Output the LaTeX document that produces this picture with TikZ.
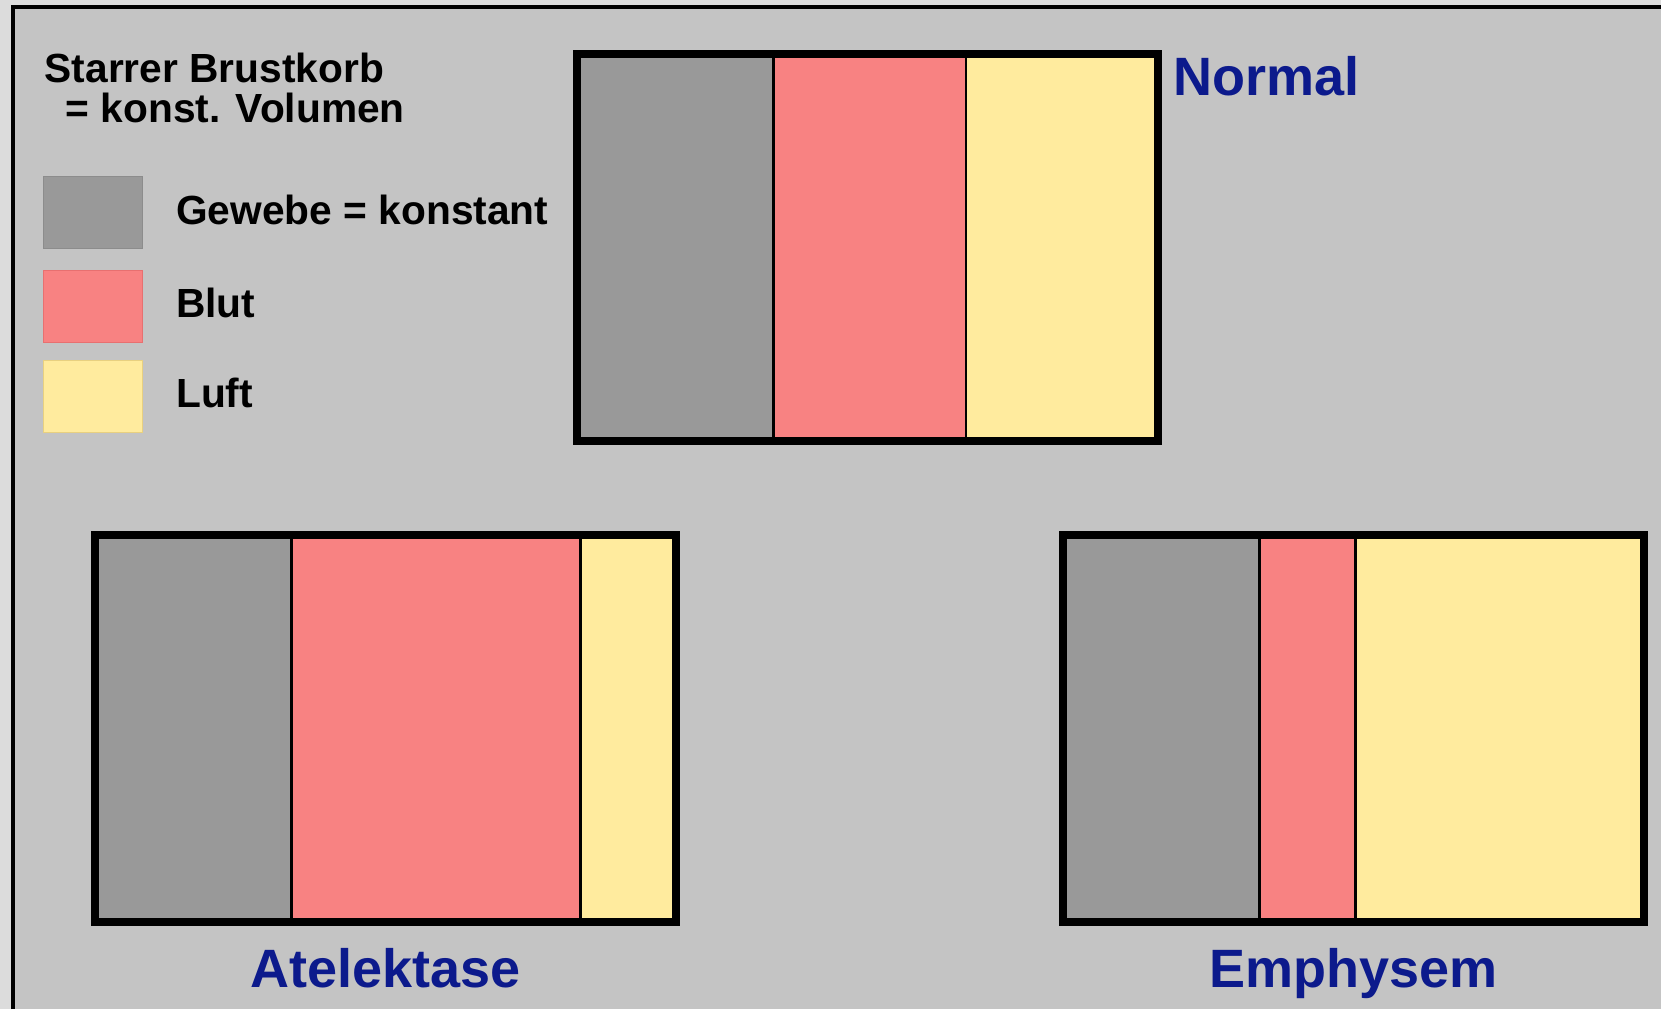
\documentclass[tikz,border=0pt]{standalone}
\usepackage{fontspec}
\setmainfont{Liberation Sans}
\definecolor{bg}{HTML}{C4C4C4}
\definecolor{outerbg}{HTML}{DCDCDC}
\definecolor{tissue}{HTML}{999999}
\definecolor{tissueedge}{HTML}{8C8C8C}
\definecolor{blood}{HTML}{F88282}
\definecolor{bloodedge}{HTML}{E87070}
\definecolor{air}{HTML}{FFEB9E}
\definecolor{airedge}{HTML}{E8D080}
\definecolor{navy}{HTML}{0C1A8C}
\tikzset{
  legtext/.style={inner sep=0pt, anchor=base west, font=\fontsize{40.7}{48}\selectfont\bfseries, text=black},
  title/.style={inner sep=0pt, anchor=base, font=\fontsize{54}{60}\selectfont\bfseries, text=navy},
  legsq/.style={draw=#1edge, fill=#1, line width=1pt, outer sep=0pt, minimum width=99pt, minimum height=72pt, inner sep=0pt, anchor=north west},
  seg/.style={fill=#1, draw=none, inner sep=0pt, outer sep=0pt, minimum height=387pt, anchor=north west},
  divider/.style={line width=2.5pt, black},
  boxframe/.style={draw=black, line width=8pt, fill=none, inner sep=0pt, outer sep=0pt, minimum width=581pt, minimum height=387pt, anchor=north west}
}
\begin{document}
\begin{tikzpicture}[x=1pt,y=-1pt]
\useasboundingbox (0,0) rectangle (1661,1009);
\fill[outerbg] (0,0) rectangle (1661,1009);
\fill[bg] (13,7) rectangle (1661,1009);
\draw[line width=4pt] (13,1009) -- (13,7) -- (1661,7);

% legend
\node[legtext] (t1) at (44.5,82.5) {Starrer Brustkorb};
\node[legtext] (t2) at (65.7,122) {= konst. Volumen};
\node[legsq=tissue] (lg) at (43,176) {};
\node[legsq=blood] (lb) at (43,270) {};
\node[legsq=air] (la) at (43,360) {};
\node[legtext] (tg) at (176,224) {Gewebe = konstant};
\node[legtext] (tb) at (176,317.5) {Blut};
\node[legtext] (ta) at (176,407.5) {Luft};

% Normal
\node[seg=tissue, minimum width=196.5pt] (ng) at (577,53.5) {};
\node[seg=blood, minimum width=192.3pt] (nb) at (773.5,53.5) {};
\node[seg=air, minimum width=192.2pt] (na) at (965.8,53.5) {};
\draw[divider] (ng.north east) -- (ng.south east);
\draw[divider] (nb.north east) -- (nb.south east);
\node[boxframe] (nbox) at (577,53.5) {};
\node[inner sep=0pt, anchor=base west, font=\fontsize{54}{60}\selectfont\bfseries, text=navy] (nt) at (1173.5,95) {Normal};

% Atelektase
\node[seg=tissue, minimum width=196.5pt] (ag) at (95,534.5) {};
\node[seg=blood, minimum width=289.2pt] (ab) at (291.5,534.5) {};
\node[seg=air, minimum width=95.3pt] (aa) at (580.7,534.5) {};
\draw[divider] (ag.north east) -- (ag.south east);
\draw[divider] (ab.north east) -- (ab.south east);
\node[boxframe] (abox) at (95,534.5) {};
\node[title] (at) at ([yshift=-66pt]abox.south) {Atelektase};

% Emphysem
\node[seg=tissue, minimum width=196.5pt] (eg) at (1063,534.5) {};
\node[seg=blood, minimum width=96pt] (eb) at (1259.5,534.5) {};
\node[seg=air, minimum width=289pt] (ea) at (1355.5,534.5) {};
\draw[divider] (eg.north east) -- (eg.south east);
\draw[divider] (eb.north east) -- (eb.south east);
\node[boxframe] (ebox) at (1063,534.5) {};
\node[title] (et) at ([yshift=-66pt]ebox.south) {Emphysem};
\end{tikzpicture}
\end{document}
